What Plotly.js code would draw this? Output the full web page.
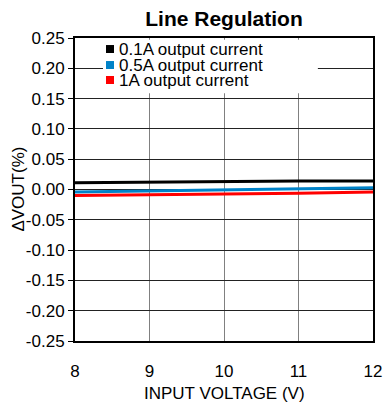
<!DOCTYPE html>
<html>
<head>
<meta charset="utf-8">
<script src="https://cdn.plot.ly/plotly-3.0.1.min.js"></script>
<style>html,body{margin:0;padding:0;background:#fff;}#chart{width:385px;height:402px;}</style>
</head>
<body>
<div id="chart"></div>
<script>
var inputVoltage = [8, 9, 10, 11, 12];
var out01A = [0.011, 0.012, 0.014, 0.014, 0.014];
var out05A = [-0.004, -0.002, -0.001, 0.001, 0.003];
var out1A = [-0.010, -0.009, -0.008, -0.006, -0.004];
var seriesNames = ['0.1A output current', '0.5A output current', '1A output current'];
var seriesColors = ['#000000', '#0082C8', '#FF0000'];
var yTicks = [-0.25, -0.20, -0.15, -0.10, -0.05, 0, 0.05, 0.10, 0.15, 0.20, 0.25];
var yTickText = ['-0.25', '-0.20', '-0.15', '-0.10', '-0.05', '0.00', '0.05', '0.10', '0.15', '0.20', '0.25'];
var xTicks = [8, 9, 10, 11, 12];
var xTitle = 'INPUT VOLTAGE (V)';
var yTitle = 'ΔVOUT(%)';

var font = 'Arial, "Liberation Sans", sans-serif';
var seriesData = [out01A, out05A, out1A];
var traces = seriesData.map(function (ys, i) {
  return {x: inputVoltage, y: ys, type: 'scatter', mode: 'lines', name: seriesNames[i],
    line: {color: seriesColors[i], width: 3}, showlegend: false, hoverinfo: 'skip'};
});

var legendY = [0.2318, 0.2054, 0.1807];
var shapes = [{type: 'rect', xref: 'x', yref: 'y', x0: 8.376, x1: 11.26, y0: 0.159, y1: 0.247,
  fillcolor: '#ffffff', line: {width: 0}, layer: 'above'}];
var annotations = [];
seriesNames.forEach(function (n, i) {
  shapes.push({type: 'rect', xref: 'x', yref: 'y', xsizemode: 'pixel', ysizemode: 'pixel',
    xanchor: 8.47, yanchor: legendY[i], x0: -4, x1: 4, y0: -4, y1: 4,
    fillcolor: seriesColors[i], line: {width: 0}, layer: 'above'});
  annotations.push({xref: 'x', yref: 'y', x: 8.58, y: legendY[i], text: n, showarrow: false,
    borderpad: 0, xanchor: 'left', yanchor: 'middle', font: {family: font, size: 17, color: '#000'}});
});
annotations.push({xref: 'paper', yref: 'paper', x: 0.5, y: -0.172, text: xTitle, showarrow: false,
  borderpad: 0, xanchor: 'center', yanchor: 'middle', font: {family: font, size: 17, color: '#000'}});
annotations.push({xref: 'paper', yref: 'paper', x: -0.191, y: 0.5, text: yTitle, showarrow: false,
  textangle: -90, xanchor: 'center', yanchor: 'middle', font: {family: font, size: 17, color: '#000'}});

var layout = {
  width: 385, height: 402,
  margin: {l: 75, r: 12, t: 38, b: 61},
  paper_bgcolor: '#fff', plot_bgcolor: '#fff',
  font: {family: font, size: 17, color: '#000'},
  title: {text: '<b>Line Regulation</b>', x: 0.5, xref: 'paper', y: 0.953, yanchor: 'middle',
    font: {family: font, size: 21, color: '#000'}},
  xaxis: {range: [8, 12], tickvals: xTicks, ticks: '', showline: true, linewidth: 2, linecolor: '#000',
    mirror: true, showgrid: true, gridcolor: '#808080', gridwidth: 1, zeroline: false,
    ticklabelstandoff: 14, tickfont: {size: 17}},
  yaxis: {range: [-0.25, 0.25], tickvals: yTicks, ticktext: yTickText, ticks: 'outside', ticklen: 5,
    tickcolor: '#000', tickwidth: 1, showline: true, linewidth: 2, linecolor: '#000', mirror: true,
    showgrid: true, gridcolor: '#222', gridwidth: 1, zeroline: false, tickfont: {size: 17}},
  shapes: shapes,
  annotations: annotations
};
Plotly.newPlot('chart', traces, layout, {staticPlot: true});
</script>
</body>
</html>
